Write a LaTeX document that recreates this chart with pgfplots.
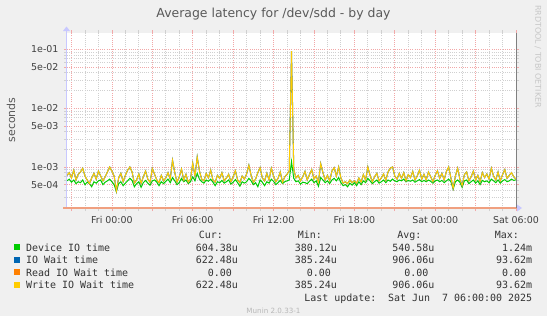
\documentclass[border=0pt]{standalone}
\usepackage{pgfplots}
\usepackage{pgfplotstable}
\pgfplotsset{compat=1.18}
\usepackage{fontspec}
\setmainfont{DejaVu Sans}
\newfontfamily\monofont{DejaVu Sans Mono}
\definecolor{bgc}{HTML}{F0F0F0}
\definecolor{cgreen}{HTML}{00CC00}
\definecolor{cblue}{HTML}{0066B3}
\definecolor{corange}{HTML}{FF8000}
\definecolor{cyellow}{HTML}{FFCC00}
\definecolor{mgrid}{HTML}{F2A8A8}
\definecolor{sgrid}{HTML}{D0D0D0}
\definecolor{axblue}{HTML}{C8C8FF}
\definecolor{salmon}{HTML}{F0A080}
\pgfplotstableread{
t d w
0 5.8e-4 7.2e-4
1 6.2e-4 8.0e-4
2 5.5e-4 6.5e-4
3 6.0e-4 8.8e-4
4 5.2e-4 6.0e-4
5 5.6e-4 7.5e-4
6 5.4e-4 8.2e-4
7 6.0e-4 9.5e-4
8 5.0e-4 7.0e-4
9 5.5e-4 6.0e-4
10 5.2e-4 5.2e-4
11 4.6e-4 6.5e-4
12 5.6e-4 7.8e-4
13 5.3e-4 6.2e-4
14 5.8e-4 8.5e-4
15 6.0e-4 7.0e-4
16 5.0e-4 5.8e-4
17 5.5e-4 6.8e-4
18 5.8e-4 8.2e-4
19 6.2e-4 10.0e-4
20 5.6e-4 8.5e-4
21 5.0e-4 7.0e-4
22 3.8e-4 3.9e-4
23 5.2e-4 6.5e-4
24 5.6e-4 7.8e-4
25 4.8e-4 5.6e-4
26 5.3e-4 7.2e-4
27 5.8e-4 8.8e-4
28 6.4e-4 10.0e-4
29 5.9e-4 8.2e-4
30 4.6e-4 5.3e-4
31 5.2e-4 6.0e-4
32 5.6e-4 7.6e-4
33 4.5e-4 5.2e-4
34 5.4e-4 6.8e-4
35 5.9e-4 8.5e-4
36 5.3e-4 6.2e-4
37 4.9e-4 5.5e-4
38 5.8e-4 9.4e-4
39 6.0e-4 7.5e-4
40 5.5e-4 6.0e-4
41 4.8e-4 5.4e-4
42 5.6e-4 7.2e-4
43 5.2e-4 5.8e-4
44 5.7e-4 6.5e-4
45 6.2e-4 8.0e-4
46 5.4e-4 6.2e-4
47 6.6e-4 13.0e-4
48 5.8e-4 8.0e-4
49 5.0e-4 5.5e-4
50 5.4e-4 6.8e-4
51 6.4e-4 9.2e-4
52 5.6e-4 6.0e-4
53 6.0e-4 7.5e-4
54 5.2e-4 5.5e-4
55 5.6e-4 6.2e-4
56 6.8e-4 11.6e-4
57 5.8e-4 7.0e-4
58 7.8e-4 14.8e-4
59 6.2e-4 8.5e-4
60 5.6e-4 6.2e-4
61 5.3e-4 5.8e-4
62 6.0e-4 7.8e-4
63 5.7e-4 6.5e-4
64 6.2e-4 8.8e-4
65 5.5e-4 6.0e-4
66 4.8e-4 5.5e-4
67 5.6e-4 7.2e-4
68 5.4e-4 6.4e-4
69 5.9e-4 8.0e-4
70 5.3e-4 5.8e-4
71 5.6e-4 6.5e-4
72 6.0e-4 7.5e-4
73 5.1e-4 5.6e-4
74 5.5e-4 6.8e-4
75 6.1e-4 8.6e-4
76 5.4e-4 6.0e-4
77 4.7e-4 5.4e-4
78 5.6e-4 7.0e-4
79 5.3e-4 6.2e-4
80 5.6e-4 7.6e-4
81 6.4e-4 10.7e-4
82 5.8e-4 7.2e-4
83 5.0e-4 5.5e-4
84 5.4e-4 6.2e-4
85 4.6e-4 8.0e-4
86 6.0e-4 9.7e-4
87 5.5e-4 6.5e-4
88 4.8e-4 5.8e-4
89 5.6e-4 7.8e-4
90 5.3e-4 6.0e-4
91 6.2e-4 9.5e-4
92 5.7e-4 7.0e-4
93 5.0e-4 5.6e-4
94 5.4e-4 6.4e-4
95 5.9e-4 8.2e-4
96 5.2e-4 5.5e-4
97 5.6e-4 6.8e-4
98 5.8e-4 7.5e-4
99 6.0e-4 8.6e-4
100 12.4e-4 936.2e-4
101 6.4e-4 9.0e-4
102 5.6e-4 6.5e-4
103 5.8e-4 7.2e-4
104 5.1e-4 5.8e-4
105 5.5e-4 6.8e-4
106 5.4e-4 8.4e-4
107 5.2e-4 6.0e-4
108 5.7e-4 7.4e-4
109 6.2e-4 9.0e-4
110 5.4e-4 6.2e-4
111 5.8e-4 7.0e-4
112 4.7e-4 5.5e-4
113 6.6e-4 11.4e-4
114 6.0e-4 8.0e-4
115 5.4e-4 6.0e-4
116 5.8e-4 7.2e-4
117 5.2e-4 5.8e-4
118 6.0e-4 8.5e-4
119 6.4e-4 9.7e-4
120 5.8e-4 7.0e-4
121 6.6e-4 10.0e-4
122 5.4e-4 6.5e-4
123 4.8e-4 5.3e-4
124 5.0e-4 5.6e-4
125 4.6e-4 5.2e-4
126 5.3e-4 6.0e-4
127 4.9e-4 5.4e-4
128 5.4e-4 5.8e-4
129 4.8e-4 5.3e-4
130 5.6e-4 6.5e-4
131 5.0e-4 5.5e-4
132 5.8e-4 7.4e-4
133 5.4e-4 6.0e-4
134 6.4e-4 10.0e-4
135 5.8e-4 7.2e-4
136 5.2e-4 5.6e-4
137 5.6e-4 6.8e-4
138 6.0e-4 7.8e-4
139 5.3e-4 5.8e-4
140 5.6e-4 6.5e-4
141 6.0e-4 7.6e-4
142 5.4e-4 5.9e-4
143 6.0e-4 8.2e-4
144 5.7e-4 9.5e-4
145 6.2e-4 10.0e-4
146 5.8e-4 7.0e-4
147 5.6e-4 6.2e-4
148 6.0e-4 7.8e-4
149 5.8e-4 6.4e-4
150 6.2e-4 8.0e-4
151 5.6e-4 5.8e-4
152 5.9e-4 7.4e-4
153 5.7e-4 6.6e-4
154 6.0e-4 8.4e-4
155 5.5e-4 6.0e-4
156 5.8e-4 7.0e-4
157 6.1e-4 8.8e-4
158 5.6e-4 6.2e-4
159 5.9e-4 7.5e-4
160 5.6e-4 6.0e-4
161 6.0e-4 8.2e-4
162 5.7e-4 6.8e-4
163 5.3e-4 5.6e-4
164 5.8e-4 7.2e-4
165 6.0e-4 8.6e-4
166 5.6e-4 6.4e-4
167 5.9e-4 7.8e-4
168 5.4e-4 6.0e-4
169 5.8e-4 8.4e-4
170 6.2e-4 10.0e-4
171 5.6e-4 6.5e-4
172 4.2e-4 4.3e-4
173 5.6e-4 7.0e-4
174 6.0e-4 9.5e-4
175 5.5e-4 6.2e-4
176 4.5e-4 4.8e-4
177 5.8e-4 7.4e-4
178 6.0e-4 8.2e-4
179 5.2e-4 5.8e-4
180 5.6e-4 6.8e-4
181 6.0e-4 8.5e-4
182 5.3e-4 6.0e-4
183 5.8e-4 7.2e-4
184 5.0e-4 5.6e-4
185 5.9e-4 8.0e-4
186 5.6e-4 6.6e-4
187 5.8e-4 7.6e-4
188 5.4e-4 6.2e-4
189 6.2e-4 9.5e-4
190 5.8e-4 7.0e-4
191 5.4e-4 6.0e-4
192 6.0e-4 8.2e-4
193 5.3e-4 5.8e-4
194 5.8e-4 7.4e-4
195 6.1e-4 9.0e-4
196 5.6e-4 6.4e-4
197 5.8e-4 7.2e-4
198 6.2e-4 8.0e-4
199 5.9e-4 6.8e-4
200 6.04e-4 6.22e-4
}\datatable
\begin{document}
\begin{tikzpicture}[x=1bp,y=1bp]
\fill[bgc] (0,0) rectangle (547,316);
\useasboundingbox (0,0) rectangle (547,316);
\begin{axis}[
  at={(67bp,108bp)}, anchor=south west,
  scale only axis, width=449bp, height=175bp,
  ymode=log, xmin=0, xmax=200, ymin=2e-4, ymax=0.191,
  axis background/.style={fill=white},
  axis line style={draw=none},
  xtick={2,20,...,200},
  xticklabels={,Fri 00:00,,Fri 06:00,,Fri 12:00,,Fri 18:00,,Sat 00:00,,Sat 06:00},
  minor x tick num=2,
  ytick={5e-4,1e-3,5e-3,1e-2,5e-2,1e-1},
  yticklabels={5e-04,1e-03,5e-03,1e-02,5e-02,1e-01},
  minor ytick={2e-4,3e-4,4e-4,6e-4,7e-4,8e-4,9e-4,2e-3,3e-3,4e-3,6e-3,7e-3,8e-3,9e-3,2e-2,3e-2,4e-2,6e-2,7e-2,8e-2,9e-2},
  grid=both,
  major grid style={mgrid, line width=0.8bp, dash pattern=on 1bp off 1.2bp},
  minor grid style={sgrid, line width=0.8bp, dash pattern=on 1bp off 1.2bp},
  tick align=outside,
  major tick length=3bp, minor tick length=3bp,
  major tick style={mgrid, line width=0.8bp},
  minor tick style={sgrid, line width=0.8bp},
  xticklabel style={anchor=base, yshift=-12bp, font=\fontsize{9.5}{11}\selectfont, text=black!75},
  yticklabel style={anchor=east, xshift=-2bp, font=\fontsize{9.5}{11}\selectfont, text=black!75},
  clip=true,
]
\addplot[cgreen, line width=1bp, no marks] table[x=t, y=d] {\datatable};
\addplot[cblue, line width=1.05bp, no marks] table[x=t, y=w] {\datatable};
\addplot[cyellow, line width=1bp, no marks] table[x=t, y=w] {\datatable};
\end{axis}
% axis decorations
\draw[axblue, line width=1bp] (66.5,108) -- (66.5,286);
\fill[axblue] (63,285) -- (70,285) -- (66.5,289.5) -- cycle;
\draw[salmon, line width=1.2bp] (63,108) -- (517,108);
\fill[axblue] (517,104.5) -- (517,111.5) -- (522,108) -- cycle;
\draw[black!50, line width=1bp] (516,108) -- (516,283);
% texts
\node[anchor=base, text=black!65, font=\fontsize{12.5}{14}\selectfont] at (273.5,299) {Average latency for /dev/sdd - by day};
\node[rotate=90, text=black!65, font=\fontsize{11}{13}\selectfont] at (11,196) {seconds};
\node[rotate=-90, anchor=west, text=black!22, font=\fontsize{8}{9}\selectfont, inner sep=0] at (538,311) {RRDTOOL / TOBI OETIKER};
\begin{scope}[every node/.style={font=\monofont\fontsize{10}{12}\selectfont, text=black!80, inner sep=0}]
\node[anchor=base east] at (223,77.5) {Cur:};
\node[anchor=base east] at (322,77.5) {Min:};
\node[anchor=base east] at (421.6,77.5) {Avg:};
\node[anchor=base east] at (519,77.5) {Max:};
\fill[cgreen] (13.5,65.6) rectangle (19.5,71.6);
\fill[cblue] (13.5,53.1) rectangle (19.5,59.1);
\fill[corange] (13.5,40.6) rectangle (19.5,46.6);
\fill[cyellow] (13.5,28.1) rectangle (19.5,34.1);
\node[anchor=base west] at (26,65) {Device IO time};
\node[anchor=base west] at (26,52.5) {IO Wait time};
\node[anchor=base west] at (26,40) {Read IO Wait time};
\node[anchor=base west] at (26,27.5) {Write IO Wait time};
\node[anchor=base east] at (238,65) {604.38u};
\node[anchor=base east] at (337,65) {380.12u};
\node[anchor=base east] at (434.5,65) {540.58u};
\node[anchor=base east] at (532.4,65) {1.24m};
\node[anchor=base east] at (238,52.5) {622.48u};
\node[anchor=base east] at (337,52.5) {385.24u};
\node[anchor=base east] at (434.5,52.5) {906.06u};
\node[anchor=base east] at (532.4,52.5) {93.62m};
\node[anchor=base east] at (232,40) {0.00};
\node[anchor=base east] at (331,40) {0.00};
\node[anchor=base east] at (428.5,40) {0.00};
\node[anchor=base east] at (526.4,40) {0.00};
\node[anchor=base east] at (238,27.5) {622.48u};
\node[anchor=base east] at (337,27.5) {385.24u};
\node[anchor=base east] at (434.5,27.5) {906.06u};
\node[anchor=base east] at (532.4,27.5) {93.62m};
\node[anchor=base east] at (532.4,14.5) {Last update:\ \ Sat Jun\ \ 7 06:00:00 2025};
\end{scope}
\node[anchor=base, text=black!28, font=\fontsize{7.2}{8}\selectfont, inner sep=0] at (273.5,3) {Munin 2.0.33-1};
\end{tikzpicture}
\end{document}
